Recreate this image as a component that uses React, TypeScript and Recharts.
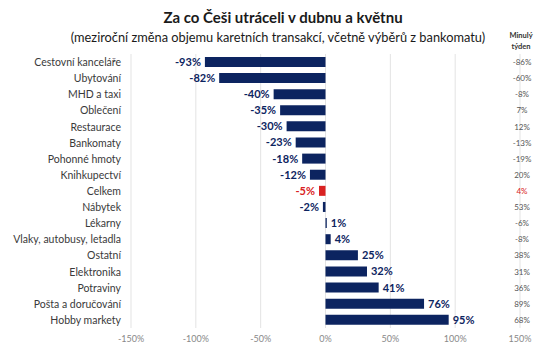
import { Bar, BarChart, CartesianGrid, Cell, LabelList, XAxis, YAxis } from "recharts";

const categories = [
  "Cestovní kanceláře",
  "Ubytování",
  "MHD a taxi",
  "Oblečení",
  "Restaurace",
  "Bankomaty",
  "Pohonné hmoty",
  "Knihkupectví",
  "Celkem",
  "Nábytek",
  "Lékarny",
  "Vlaky, autobusy, letadla",
  "Ostatní",
  "Elektronika",
  "Potraviny",
  "Pošta a doručování",
  "Hobby markety",
];
const zmena = [-93, -82, -40, -35, -30, -23, -18, -12, -5, -2, 1, 4, 25, 32, 41, 76, 95];
const minulyTyden = [-86, -60, -8, 7, 12, -13, -19, 20, 4, 53, -6, -8, 38, 31, 36, 89, 68];
const xTicks = [-150, -100, -50, 0, 50, 100, 150];

const NAVY = "#0c2460";
const RED = "#d92121";
const FONT = "Lato, 'Open Sans', sans-serif";

const data = categories.map((name, i) => ({
  name,
  value: zmena[i],
  prev: minulyTyden[i],
  total: name === "Celkem",
}));

function CategoryTick({ x, y, payload }: any) {
  return (
    <text x={x - 2} y={y} dy={4} textAnchor="end" fontSize={10.5} fill="#3a3a3a" fontFamily={FONT}>
      {payload.value}
    </text>
  );
}

function PrevTick({ x, y, payload }: any) {
  const row = data.find((d) => d.name === payload.value);
  if (!row) return null;
  return (
    <text x={x - 6} y={y} dy={3} textAnchor="middle" fontSize={8} fill={row.total ? RED : "#555"} fontFamily={FONT}>
      {`${row.prev}%`}
    </text>
  );
}

function ValueLabel({ x, y, width, height, value, index }: any) {
  const neg = value < 0;
  const row = data[index];
  return (
    <text
      x={neg ? x + width - 4 : x + width + 4}
      y={y + height / 2}
      dy={4}
      textAnchor={neg ? "end" : "start"}
      fontSize={11}
      fontWeight={700}
      fill={row.total ? RED : NAVY}
      fontFamily={FONT}
    >
      {`${value}%`}
    </text>
  );
}

export default function App() {
  return (
    <div style={{ position: "absolute", left: 0, top: 0, width: 554, height: 361, background: "#fff", fontFamily: FONT }}>
      <div style={{ position: "absolute", left: 0, width: 566, top: 8, textAlign: "center", fontSize: 15, fontWeight: 700, color: "#1a1a1a" }}>
        Za co Češi utráceli v dubnu a květnu
      </div>
      <div style={{ position: "absolute", left: 0, width: 556, top: 29, textAlign: "center", fontSize: 12.8, color: "#1a1a1a" }}>
        (meziroční změna objemu karetních transakcí, včetně výběrů z bankomatu)
      </div>
      <div style={{ position: "absolute", left: 496, width: 50, top: 30, textAlign: "center", fontSize: 7.5, fontWeight: 700, color: "#333", lineHeight: "11px" }}>
        Minulý
        <br />
        týden
      </div>
      <BarChart
        width={554}
        height={361}
        data={data}
        layout="vertical"
        barCategoryGap="18%"
        margin={{ top: 54, right: 33, bottom: 4, left: 0 }}
      >
        <CartesianGrid horizontal={false} stroke="#e3e3e3" />
        <XAxis
          type="number"
          domain={[-150, 150]}
          ticks={xTicks}
          tickFormatter={(v) => `${v}%`}
          axisLine={false}
          tickLine={false}
          height={29}
          tick={{ fontSize: 9, fill: "#888", fontFamily: FONT }}
        />
        <YAxis
          type="category"
          dataKey="name"
          width={131}
          interval={0}
          axisLine={false}
          tickLine={false}
          tick={<CategoryTick />}
        />
        <YAxis
          yAxisId="prev"
          orientation="right"
          type="category"
          dataKey="name"
          width={1}
          interval={0}
          axisLine={false}
          tickLine={false}
          tick={<PrevTick />}
        />
        <Bar dataKey="value" isAnimationActive={false}>
          {data.map((d) => (
            <Cell key={d.name} fill={d.total ? RED : NAVY} />
          ))}
          <LabelList dataKey="value" content={<ValueLabel />} />
        </Bar>
      </BarChart>
    </div>
  );
}
